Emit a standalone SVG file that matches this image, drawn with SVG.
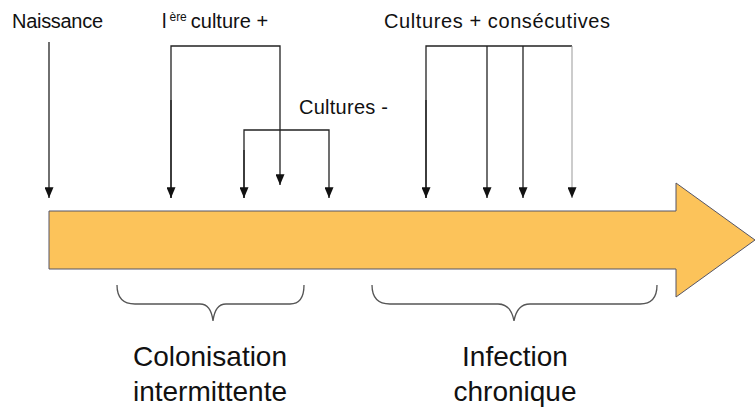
<svg xmlns="http://www.w3.org/2000/svg" width="755" height="412" viewBox="0 0 755 412">
<defs>
<marker id="ah" viewBox="0 0 12 10" refX="12" refY="5" markerWidth="12" markerHeight="9" markerUnits="userSpaceOnUse" orient="auto">
<path d="M0,0 L12,5 L0,10 Z" fill="#111"/>
</marker>
</defs>
<style>
text{font-family:"Liberation Sans",Arial,sans-serif;fill:#111}
.t{font-size:20px}
.b{font-size:28px}
.c{fill:none;stroke:#222;stroke-width:1.3}
.br{fill:none;stroke:#555;stroke-width:1.3}
</style>
<rect width="755" height="412" fill="#fff"/>
<g id="timeline">
<path d="M49,211 L676,211 L676,183 L755,240 L676,297 L676,269 L49,269 Z" fill="#FCC35A" stroke="#556" stroke-width="1"/>
</g>
<g id="connectors">
<line class="c" x1="49" y1="42" x2="49" y2="198" marker-end="url(#ah)"/>
<path class="c" d="M171,198 L171,46 L280,46 L280,185" marker-end="url(#ah)"/>
<line class="c" x1="171" y1="100" x2="171" y2="198" marker-end="url(#ah)"/>
<path class="c" d="M244,198 L244,130 L329,130 L329,198" marker-end="url(#ah)"/>
<line class="c" x1="244" y1="150" x2="244" y2="198" marker-end="url(#ah)"/>
<path class="c" d="M426,198 L426,46 L572,46" />
<line class="c" x1="426" y1="100" x2="426" y2="198" marker-end="url(#ah)"/>
<line class="c" x1="487" y1="46" x2="487" y2="198" marker-end="url(#ah)"/>
<line class="c" x1="523" y1="46" x2="523" y2="198" marker-end="url(#ah)"/>
<line x1="572" y1="46" x2="572" y2="198" stroke="#999" stroke-width="1" marker-end="url(#ah)"/>
<path class="br" d="M117,285 Q117,304 135,304 L200,304 Q211,304 213,321 Q215,304 226,304 L290,304 Q304,304 304,285"/>
<path class="br" d="M372,285 Q372,304 390,304 L498,304 Q511,304 514,321 Q517,304 530,304 L640,304 Q657,304 657,285"/>
</g>
<g id="naissance"><text class="t" x="12" y="28" textLength="91">Naissance</text></g>
<g id="culture1"><text class="t" x="162" y="28">l<tspan font-size="12" dy="-7" dx="3">ère</tspan><tspan dy="7" dx="4">culture +</tspan></text></g>
<g id="cultures-neg"><text class="t" x="299" y="114" textLength="89">Cultures -</text></g>
<g id="cultures-pos"><text class="t" x="384" y="28" textLength="226">Cultures + consécutives</text></g>
<g id="colonisation">
<text class="b" x="210" y="366" text-anchor="middle" textLength="154">Colonisation</text>
<text class="b" x="210" y="401" text-anchor="middle">intermittente</text>
</g>
<g id="infection">
<text class="b" x="515" y="366" text-anchor="middle">Infection</text>
<text class="b" x="515" y="401" text-anchor="middle">chronique</text>
</g>
</svg>
